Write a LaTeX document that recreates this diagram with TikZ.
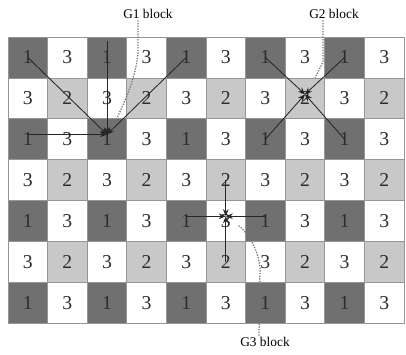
\documentclass[tikz,border=0pt]{standalone}
\usepackage{fontspec}
\setmainfont{Liberation Serif}
\usetikzlibrary{arrows.meta}
\definecolor{cellDark}{RGB}{112,112,112}
\definecolor{cellLite}{RGB}{200,200,200}
\definecolor{cellLine}{RGB}{150,150,150}
\definecolor{digitInk}{RGB}{45,45,45}
\tikzset{
  cell/.style={rectangle, draw=cellLine, line width=0.5pt, minimum width=0.99cm,
               minimum height=1.0225cm, inner sep=0pt, text=digitInk,
               font=\fontsize{14}{16}\selectfont},
  ray/.style={-{Stealth[length=5pt, width=4pt]}, line width=0.6pt, color=black!85},
  lead/.style={densely dotted, line width=0.9pt, color=black!55},
  blocklabel/.style={font=\fontsize{9.5}{11}\selectfont, inner sep=1pt},
}
\begin{document}
\begin{tikzpicture}[x=0.025cm, y=-0.025cm]
  \useasboundingbox (0,0) rectangle (406,354);
  % cells: 1 = dark, 2 = light, 3 = white
  \foreach \r in {1,...,7} {
    \foreach \c in {1,...,10} {
      \pgfmathtruncatemacro\v{mod(\r,2)==1 ? (mod(\c,2)==1 ? 1 : 3) : (mod(\c,2)==1 ? 3 : 2)}
      \ifcase\v\or\def\cellfill{cellDark}\or\def\cellfill{cellLite}\or\def\cellfill{white}\fi
      \node[cell, fill=\cellfill] (c-\r-\c) at ({8+39.6*(\c-0.5)}, {37+40.9*(\r-0.5)}) {\v};
    }
  }

  % G1 block
  \coordinate (g1) at ([yshift=0.12cm]c-3-3.center);
  \draw[ray] (c-1-1.center) -- (g1);
  \draw[ray] ([yshift=0.4cm]c-1-3.center) -- (g1);
  \draw[ray] (c-1-5.center) -- (g1);
  \draw[ray] ([yshift=0.12cm]c-3-1.center) -- (g1);

  % G2 block
  \coordinate (g2) at ([yshift=0.1cm]c-2-8.center);
  \draw[ray] (c-1-7.center) -- (g2);
  \draw[ray] (c-1-9.center) -- (g2);
  \draw[ray] (c-3-7.center) -- (g2);
  \draw[ray] (c-3-9.center) -- (g2);

  % G3 block
  \coordinate (g3) at ([yshift=0.12cm]c-5-6.center);
  \draw[ray] ([yshift=0.12cm]c-5-5.center) -- (g3);
  \draw[ray] ([yshift=0.12cm]c-5-7.center) -- (g3);
  \draw[ray] (c-4-6.center) -- (g3);
  \draw[ray] (c-6-6.center) -- (g3);

  % labels and leaders
  \node[blocklabel] (g1lab) at (148,14) {G1 block};
  \node[blocklabel] (g2lab) at (334,14) {G2 block};
  \node[blocklabel] (g3lab) at (265,342) {G3 block};
  \coordinate (g1tip) at (112,128);
  \coordinate (g2tip) at (315,78);
  \coordinate (g3tip) at (238,225);
  \draw[lead] ([xshift=-0.25cm]g1lab.south) -- (138,52) .. controls (136,80) and (122,108) .. (g1tip);
  \draw[lead] ([xshift=-0.275cm]g2lab.south) -- (323,62) -- (g2tip);
  \draw[lead] ([xshift=-0.15cm]g3lab.north) -- (260,268) .. controls (258,250) and (250,235) .. (g3tip);
\end{tikzpicture}
\end{document}
